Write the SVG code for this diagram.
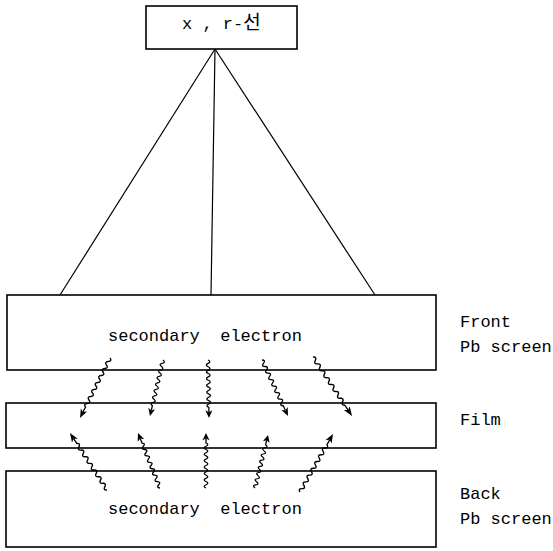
<svg xmlns="http://www.w3.org/2000/svg" xmlns:xlink="http://www.w3.org/1999/xlink" width="553" height="551" viewBox="0 0 553 551">
<style>
.box{fill:#fff;stroke:#000;stroke-width:1.6}
.t{font-family:"Liberation Mono","Noto Sans CJK KR",monospace;font-size:17px;fill:#000;white-space:pre}
.ln{stroke:#000;stroke-width:1.2;fill:none}
</style>
<defs>
<g id="wv">
<path d="M0,0 q1.75,-3.6 3.5,0 t3.5,0 t3.5,0 t3.5,0 t3.5,0 t3.5,0 t3.5,0 t3.5,0 t3.5,0 t3.5,0 t3.5,0 t3.5,0 t3.5,0 t3.5,0 L54,0" fill="none" stroke="#000" stroke-width="1.3"/>
<polygon points="60,0 52,-3.5 54,0 52,3.5" fill="#000"/>
</g>
</defs>
<rect width="553" height="551" fill="#fff"/>
<g id="connectors">
<line class="ln" x1="215" y1="49" x2="60" y2="295"/>
<line class="ln" x1="215" y1="49" x2="211" y2="295"/>
<line class="ln" x1="215" y1="49" x2="375" y2="295"/>
</g>
<g id="source">
<rect class="box" x="146" y="6" width="151" height="43"/>
<text class="t" x="182" y="29" font-size="16" xml:space="preserve">x , r-<tspan font-size="19">선</tspan></text>
</g>
<g id="front">
<rect class="box" x="7" y="295" width="429" height="75"/>
<text class="t" x="108" y="341" xml:space="preserve">secondary  electron</text>
</g>
<g id="film">
<rect class="box" x="6" y="403" width="430" height="45"/>
</g>
<g id="back">
<rect class="box" x="6" y="471" width="430" height="76"/>
<text class="t" x="108" y="514" xml:space="preserve">secondary  electron</text>
</g>
<g id="labels">
<text class="t" x="460" y="327">Front</text>
<text class="t" x="460" y="352" xml:space="preserve">Pb screen</text>
<text class="t" x="460" y="425">Film</text>
<text class="t" x="460" y="499">Back</text>
<text class="t" x="460" y="524" xml:space="preserve">Pb screen</text>
</g>
<g id="electrons">
<use xlink:href="#wv" transform="translate(110,358) rotate(116.57) scale(1.118,1)"/>
<use xlink:href="#wv" transform="translate(163,360) rotate(103.07) scale(0.958,1)"/>
<use xlink:href="#wv" transform="translate(208,360) rotate(89.01) scale(0.967,1)"/>
<use xlink:href="#wv" transform="translate(262,360) rotate(65.1) scale(1.029,1)"/>
<use xlink:href="#wv" transform="translate(313,357) rotate(56.53) scale(1.179,1)"/>
<use xlink:href="#wv" transform="translate(107,490) rotate(-123) scale(1.133,1)"/>
<use xlink:href="#wv" transform="translate(160,488) rotate(-111.8) scale(0.987,1)"/>
<use xlink:href="#wv" transform="translate(206,488) rotate(-90) scale(0.917,1)"/>
<use xlink:href="#wv" transform="translate(255,488) rotate(-76.22) scale(0.91,1)"/>
<use xlink:href="#wv" transform="translate(300,492) rotate(-60.36) scale(1.112,1)"/>
</g>
</svg>
